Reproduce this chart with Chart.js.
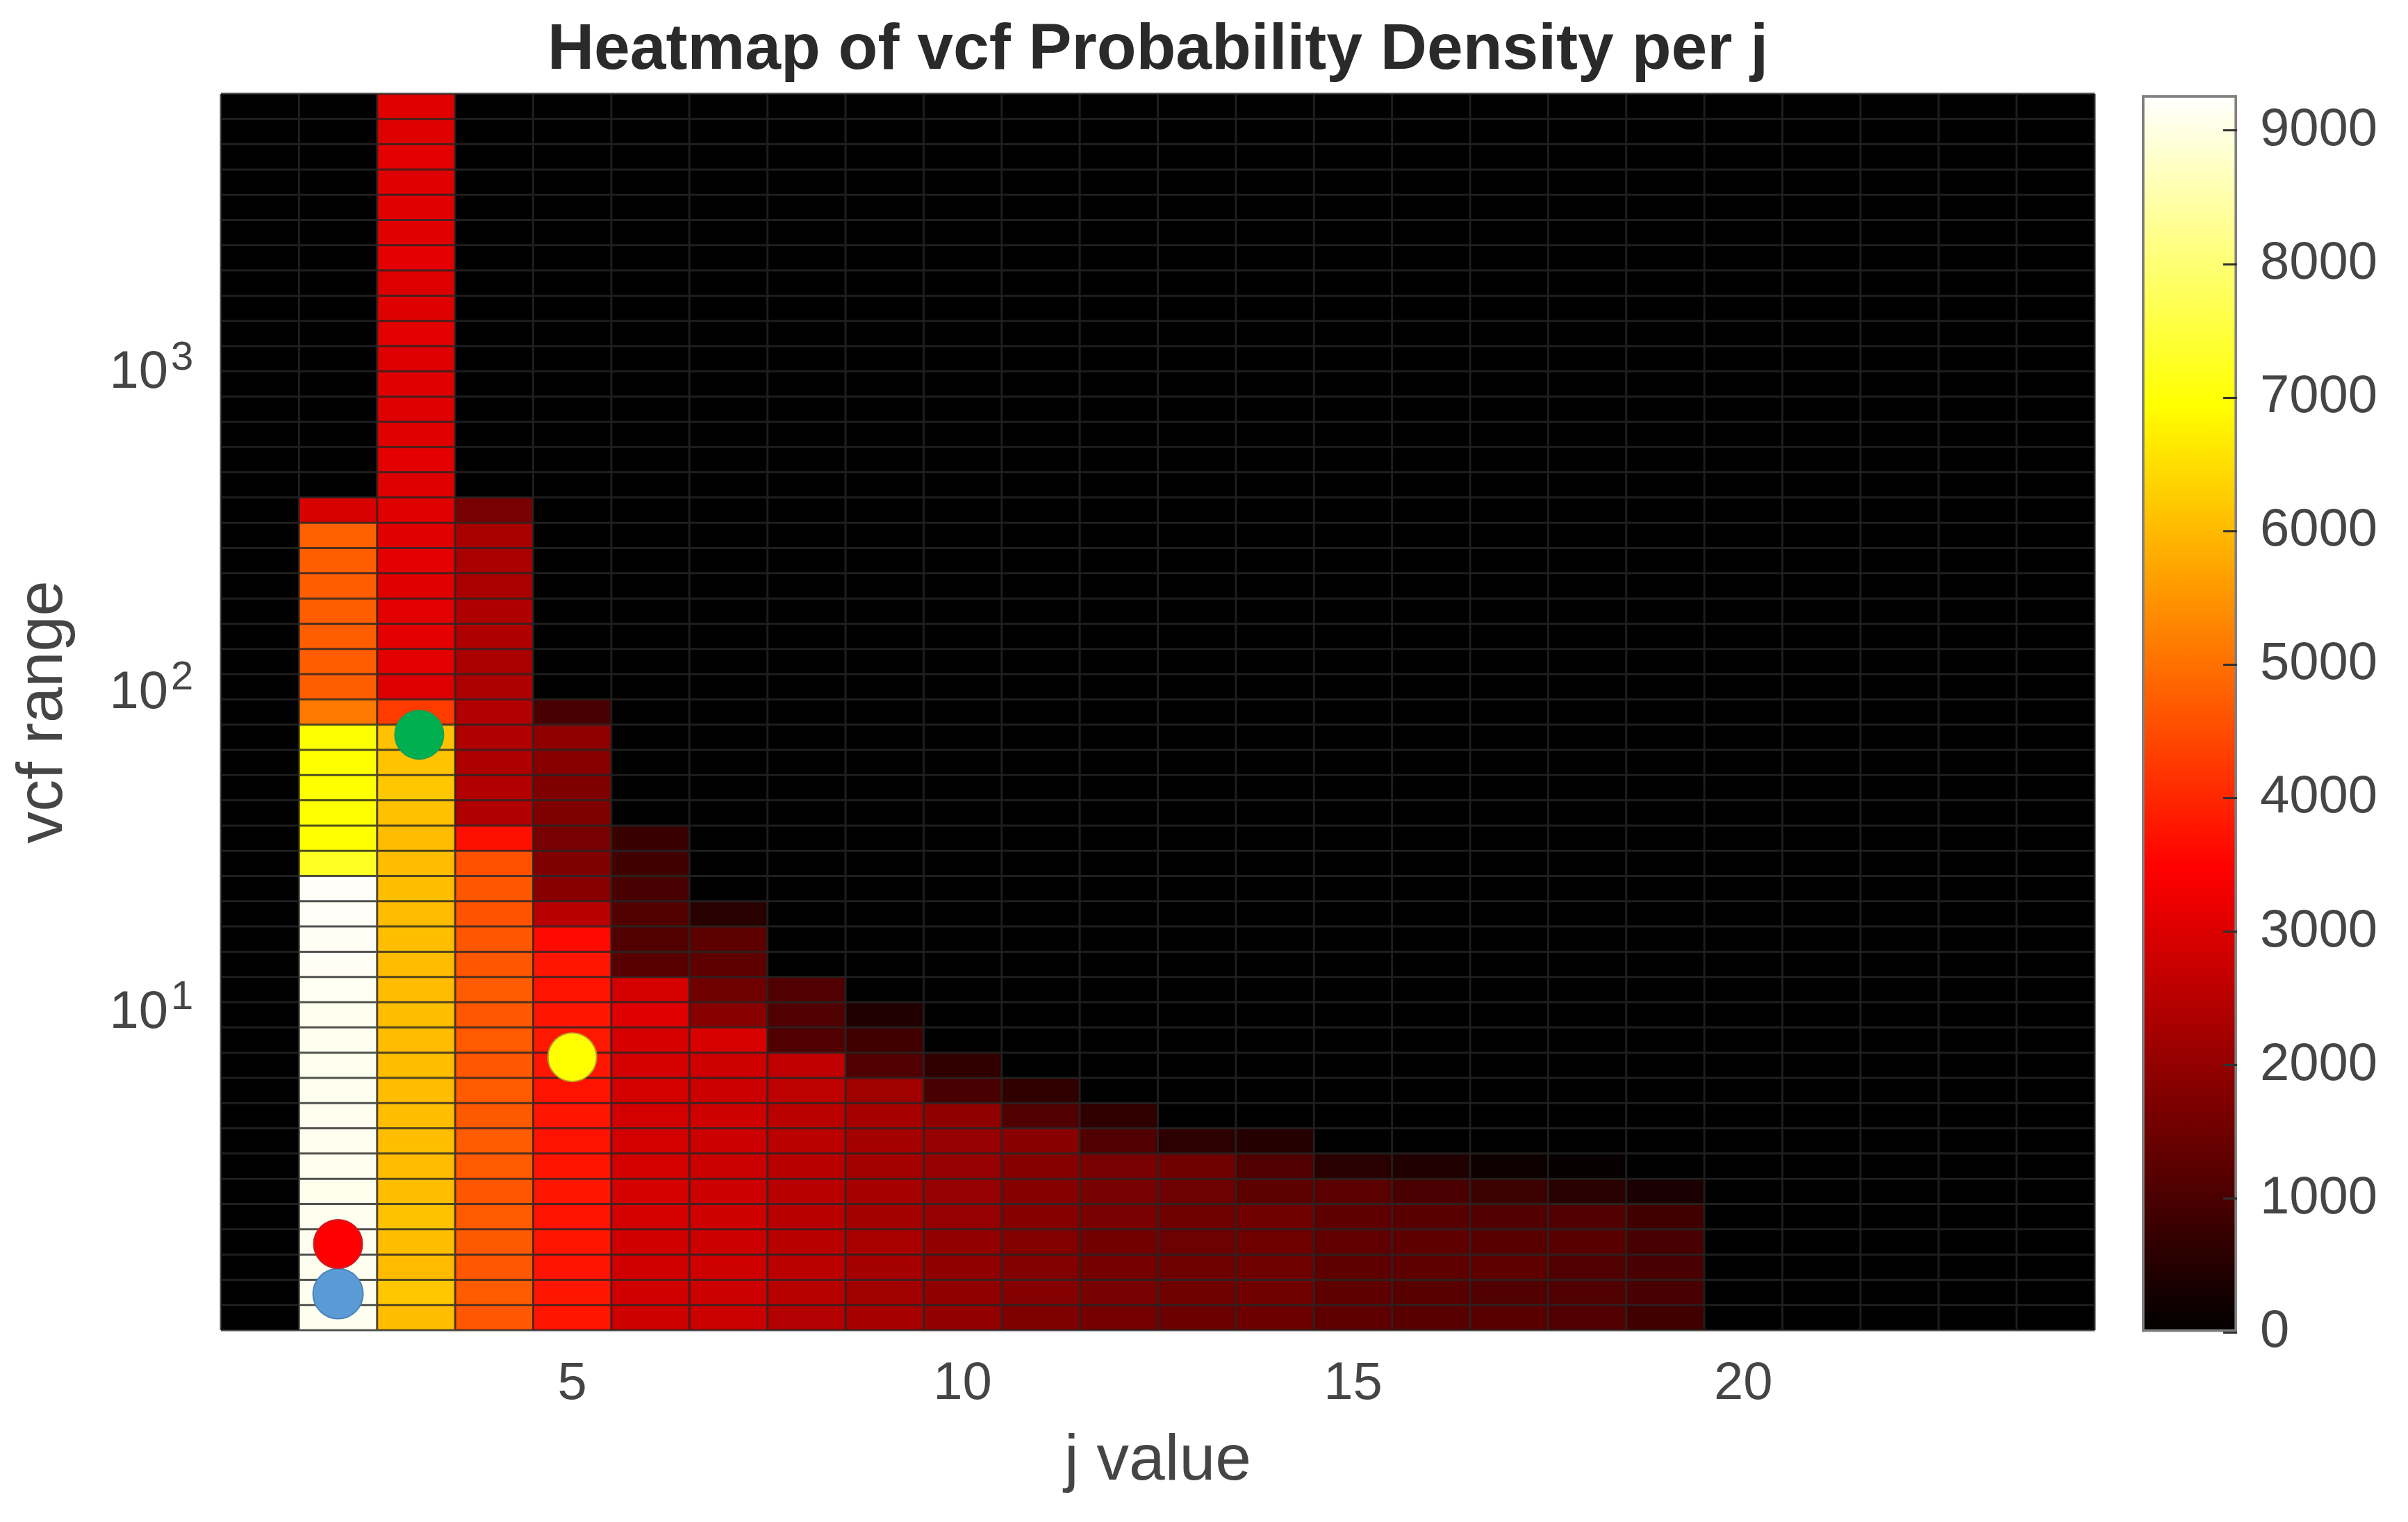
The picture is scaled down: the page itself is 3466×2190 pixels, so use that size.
<!DOCTYPE html>
<html>
<head>
<meta charset="utf-8">
<title>Heatmap of vcf Probability Density per j</title>
<script src="https://cdn.jsdelivr.net/npm/chart.js@4/dist/chart.umd.min.js"></script>
<style>
  html, body { margin: 0; padding: 0; background: #ffffff; }
  #page { position: relative; width: 3466px; height: 2190px; overflow: hidden; }
  canvas { position: absolute; }
  #heat { left: 0; top: 0; }
  #scale { left: 3040px; top: 100px; }
</style>
</head>
<body>
<div id="page">
  <canvas id="heat" width="3466" height="2190"></canvas>
  <canvas id="scale" width="426" height="1900"></canvas>
</div>
<script>
// Category labels along the horizontal axis
const jLabels = ['1','2','3','4','5','6','7','8','9','10','11','12','13','14','15','16','17','18','19','20','21','22','23','24'];
const jTickLabels = ['5','10','15','20'];

// Lower and upper bounds of the vcf bins (logarithmically spaced)
const vcfEdges = [1,1.199,1.438,1.724,2.068,2.48,2.974,3.567,4.278,5.13,6.152,7.377,8.847,10.61,12.72,15.26,18.3,21.94,26.31,31.55,37.84,45.38,54.42,65.26,78.26,93.86,112.6,135,161.9,194.1,232.8,279.2,334.9,401.6,481.6,577.5,692.6,830.6,996,1194,1432,1718,2060,2470,2962,3552,4260,5109,6127,7347];
const vcfTickValues = [10,100,1000];
const vcfTickExponents = ['1','2','3'];

// Probability density per j, lowest vcf bin first; bins above the end of a list are empty
const densityJ2 = [9120,9130,9120,9130,9120,9110,9130,9120,9120,9120,9130,9120,9130,9150,9170,9180,9190,9200,7250,6960,6960,6950,6950,6980,5120,4760,4740,4760,4760,4740,4760,4780,2950];
const densityJ3 = [6080,6180,6020,6080,6120,6060,6040,6080,6060,6050,6060,6040,6080,6040,6030,6060,6040,6060,6050,6040,6100,6180,6150,6100,4280,3020,3080,3100,3080,3060,3100,3050,3060,3020,3100,3060,3040,3060,3000,3080,3040,3000,3100,3060,3060,3050,3080,3020,3050];
const densityJ4 = [4680,4720,4680,4690,4700,4660,4700,4720,4690,4700,4680,4700,4680,4720,4650,4640,4600,4640,4560,3680,2400,2420,2380,2400,2420,2360,2320,2380,2380,2300,2300,2290,1630];
const densityJ5 = [3760,3780,3720,3760,3730,3780,3750,3720,3760,3740,3770,3800,3780,3740,3760,3600,2520,1850,1740,1630,1740,1740,1850,1960,980];
const densityJ6 = [2800,2840,2850,2850,2880,2900,2880,2880,2860,2880,2900,2920,3050,2860,1200,1100,1100,980,870,770];
const densityJ7 = [2760,2780,2800,2780,2800,2780,2760,2780,2800,2780,2800,2950,1850,1525,1300,1250,545];
const densityJ8 = [2450,2500,2550,2520,2520,2520,2520,2550,2550,2580,2620,1090,1090,1090];
const densityJ9 = [2280,2200,2250,2290,2250,2260,2250,2250,2260,2180,1090,870,435];
const densityJ10 = [2000,1960,1960,2000,2040,2040,2040,2040,1960,980,650];
const densityJ11 = [1750,1800,1780,1780,1800,1800,1800,1850,1090,650];
const densityJ12 = [1600,1620,1600,1560,1640,1620,1630,1090,650];
const densityJ13 = [1450,1500,1500,1480,1500,1480,1525,600];
const densityJ14 = [1470,1520,1500,1500,1520,1250,1090,500];
const densityJ15 = [1300,1300,1300,1310,1280,1225,545];
const densityJ16 = [1200,1200,1300,1300,1200,1010,435];
const densityJ17 = [1200,1090,1300,1200,1090,820,160];
const densityJ18 = [1090,1090,1090,1200,1090,545,80];
const densityJ19 = [870,980,980,980,870,355];
const densityByJ = { 2: densityJ2, 3: densityJ3, 4: densityJ4, 5: densityJ5, 6: densityJ6, 7: densityJ7, 8: densityJ8, 9: densityJ9, 10: densityJ10, 11: densityJ11, 12: densityJ12, 13: densityJ13, 14: densityJ14, 15: densityJ15, 16: densityJ16, 17: densityJ17, 18: densityJ18, 19: densityJ19 };

// Highlighted points on the map
const markerJ = [2,2,3.04,5];
const markerVcf = [1.3,1.86,72.8,7.14];
const markerFill = ['#5b9bd5','#ff0000','#00b050','#ffff00'];
const markerEdge = ['#4a84ba','#c8202a','#12a050','#b8a028'];
const markerRadius = [36,35,35,35];

// Colour scale limits and ticks
const densityMax = 9265;
const densityTicks = [0,1000,2000,3000,4000,5000,6000,7000,8000,9000];

const textColor = '#454545';
const fontFamily = '"Liberation Sans", Arial, sans-serif';
const cellLine = 'rgba(38,38,38,0.8)';

// Black-red-yellow-white colormap
function hot(v) {
  const t = Math.max(0, Math.min(1, v / densityMax));
  const r = Math.min(1, t / 0.375);
  const g = Math.max(0, Math.min(1, (t - 0.375) / 0.375));
  const b = Math.max(0, Math.min(1, (t - 0.75) / 0.25));
  return 'rgb(' + Math.round(r * 255) + ',' + Math.round(g * 255) + ',' + Math.round(b * 255) + ')';
}

// One bar dataset per vcf bin, each holding a floating bar for every j
const cellDatasets = vcfEdges.slice(0, -1).map((lo, row) => ({
  type: 'bar',
  xAxisID: 'x',
  yAxisID: 'y',
  grouped: false,
  order: row + 1,
  barPercentage: 1,
  categoryPercentage: 1,
  borderWidth: 0,
  data: jLabels.map(() => [lo, vcfEdges[row + 1]]),
  backgroundColor: jLabels.map(j => hot((densityByJ[j] || [])[row] || 0))
}));

const markerDataset = {
  type: 'scatter',
  order: -1,
  xAxisID: 'jPosition',
  yAxisID: 'y',
  data: markerJ.map((j, i) => ({ x: j, y: markerVcf[i] })),
  pointStyle: 'circle',
  pointRadius: markerRadius,
  pointBackgroundColor: markerFill,
  pointBorderColor: markerEdge,
  pointBorderWidth: 2,
  showLine: false
};

// Cell outlines sit above the colour cells but below the point markers
const cellGrid = {
  id: 'cellGrid',
  beforeDatasetDraw(chart, args) {
    if (args.meta.type !== 'scatter') return;
    const { ctx, scales: { x, y }, chartArea: a } = chart;
    ctx.save();
    ctx.strokeStyle = cellLine;
    ctx.lineWidth = 3;
    ctx.beginPath();
    vcfEdges.forEach(e => {
      const p = y.getPixelForValue(e);
      ctx.moveTo(a.left, p);
      ctx.lineTo(a.right, p);
    });
    for (let i = 0; i <= jLabels.length; i++) {
      const p = x.getPixelForValue(i - 0.5);
      ctx.moveTo(p, a.top);
      ctx.lineTo(p, a.bottom);
    }
    ctx.stroke();
    ctx.restore();
  }
};

// Raised exponents next to the "10" tick labels of the logarithmic axis
const exponentLabels = {
  id: 'exponentLabels',
  afterDraw(chart) {
    const { ctx, scales: { y } } = chart;
    ctx.save();
    ctx.fillStyle = textColor;
    ctx.font = '58px ' + fontFamily;
    ctx.textAlign = 'left';
    ctx.textBaseline = 'alphabetic';
    vcfTickValues.forEach((v, i) => {
      ctx.fillText(vcfTickExponents[i], 246, y.getPixelForValue(v) - 2);
    });
    ctx.restore();
  }
};

new Chart(document.getElementById('heat'), {
  type: 'bar',
  data: { labels: jLabels, datasets: [...cellDatasets, markerDataset] },
  plugins: [cellGrid, exponentLabels],
  options: {
    responsive: false,
    animation: false,
    events: [],
    layout: { padding: { left: 0, right: 451, top: 0, bottom: 0 } },
    plugins: {
      legend: { display: false },
      tooltip: { enabled: false },
      title: {
        display: true,
        fullSize: false,
        text: 'Heatmap of vcf Probability Density per j',
        color: '#2a2a2a',
        font: { family: fontFamily, size: 93, weight: 'bold', lineHeight: 1.2 },
        padding: { top: 18, bottom: 5.4 }
      }
    },
    scales: {
      x: {
        type: 'category',
        offset: true,
        grid: { display: false },
        border: { display: false },
        afterFit(s) { s.height = 276; },
        ticks: {
          autoSkip: false,
          maxRotation: 0,
          minRotation: 0,
          padding: 24,
          color: textColor,
          font: { family: fontFamily, size: 76 },
          callback(value) {
            const label = this.getLabelForValue(value);
            return jTickLabels.includes(label) ? label : '';
          }
        },
        title: {
          display: true,
          text: 'j value',
          color: textColor,
          font: { family: fontFamily, size: 93, lineHeight: 1.2 },
          padding: { top: 0, bottom: 31 }
        }
      },
      jPosition: { axis: 'x', position: 'bottom', type: 'linear', display: false, offset: false, min: 0.5, max: 24.5 },
      y: {
        type: 'logarithmic',
        min: vcfEdges[0],
        max: vcfEdges[vcfEdges.length - 1],
        grid: { display: false },
        border: { display: false },
        afterFit(s) { s.width = 318; },
        afterBuildTicks(s) { s.ticks = vcfTickValues.map(v => ({ value: v })); },
        ticks: {
          autoSkip: false,
          padding: 68,
          labelOffset: 4,
          color: textColor,
          font: { family: fontFamily, size: 76 },
          callback() { return '10'; }
        },
        title: {
          display: true,
          text: 'vcf range',
          color: textColor,
          font: { family: fontFamily, size: 92, lineHeight: 1.2 },
          padding: { top: 8, bottom: 0 }
        }
      }
    }
  }
});

// Colour bar: one bar spanning the density range, filled with the same colormap
new Chart(document.getElementById('scale'), {
  type: 'bar',
  data: {
    labels: ['density'],
    datasets: [{
      data: [[0, densityMax]],
      barPercentage: 1,
      categoryPercentage: 1,
      borderWidth: 4,
      borderSkipped: false,
      borderColor: 'rgba(128,128,128,1)',
      backgroundColor(context) {
        const { ctx, chartArea } = context.chart;
        if (!chartArea) return '#000000';
        const g = ctx.createLinearGradient(0, chartArea.bottom, 0, chartArea.top);
        [0, 0.125, 0.25, 0.375, 0.5, 0.625, 0.75, 0.875, 1].forEach(t => g.addColorStop(t, hot(t * densityMax)));
        return g;
      }
    }]
  },
  options: {
    responsive: false,
    animation: false,
    events: [],
    layout: { padding: { left: 43, top: 37, right: 0, bottom: 83 } },
    plugins: { legend: { display: false }, tooltip: { enabled: false } },
    scales: {
      x: { display: false },
      y: {
        position: 'right',
        type: 'linear',
        min: 0,
        max: densityMax,
        afterBuildTicks(s) { s.ticks = densityTicks.map(v => ({ value: v })); },
        afterFit(s) { s.width = 246; s.paddingTop = 0; s.paddingBottom = 0; },
        border: { display: false },
        grid: { drawOnChartArea: false, drawTicks: true, tickLength: -20, tickWidth: 3, tickColor: '#303030', z: 1 },
        ticks: {
          padding: 53,
          color: textColor,
          font: { family: fontFamily, size: 76 },
          callback(value) { return String(value); }
        }
      }
    }
  }
});
</script>
</body>
</html>
